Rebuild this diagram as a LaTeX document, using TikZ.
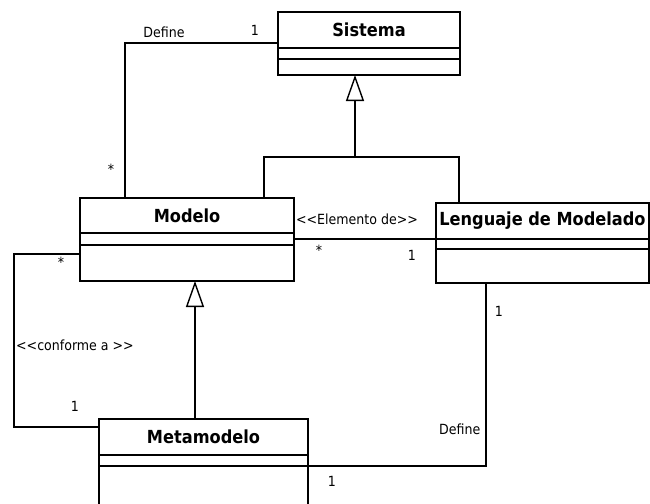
\documentclass[tikz,border=0pt]{standalone}
\usepackage{fontspec}
\setmainfont{DejaVu Sans Condensed}
\usetikzlibrary{positioning,arrows.meta}
\begin{document}
\begin{tikzpicture}[
                x=0.5pt, y=-0.5pt,
                line width=0.7pt,
                title/.style={draw, outer sep=0pt, inner sep=0pt, anchor=north west,
                        minimum height=18pt, font=\fontsize{9}{10}\selectfont\bfseries},
                part/.style={draw, outer sep=0pt, inner sep=0pt},
                lbl/.style={inner sep=0pt, font=\fontsize{7}{8}\selectfont},
                gen/.style={-{Triangle[open, length=13pt, width=9pt]}}
            ]

            \useasboundingbox[fill=white] (0,0) rectangle (650,504);

            % clases
            \node[title, minimum width=91pt] (sisT) at (278,12) {Sistema};
            \node[part, minimum width=91pt, minimum height=5.5pt, below=0pt of sisT] (sisM) {};
            \node[part, minimum width=91pt, minimum height=8pt, below=0pt of sisM] (sisB) {};

            \node[title, minimum width=107pt, minimum height=17.5pt] (modT) at (80,198) {Modelo};
            \node[part, minimum width=107pt, minimum height=6pt, below=0pt of modT] (modM) {};
            \node[part, minimum width=107pt, minimum height=18pt, below=0pt of modM] (modB) {};

            \node[title, minimum width=106.5pt] (lenT) at (436,203) {Lenguaje de Modelado};
            \node[part, minimum width=106.5pt, minimum height=5pt, below=0pt of lenT] (lenM) {};
            \node[part, minimum width=106.5pt, minimum height=17pt, below=0pt of lenM] (lenB) {};

            \node[title, minimum width=104.5pt] (metaT) at (99,419) {Metamodelo};
            \node[part, minimum width=104.5pt, minimum height=5.5pt, below=0pt of metaT] (metaM) {};
            \node[part, minimum width=104.5pt, minimum height=20pt, below=0pt of metaM] (metaB) {};

            % herencia
            \coordinate (j1) at (355,157);
            \draw[gen] (j1) -- (j1 |- sisB.south);
            \draw ([xshift=38.5pt]modT.north) |- (j1) -| ([xshift=-41.75pt]lenT.north);
            \draw[gen] ([xshift=-4.25pt]metaT.north) -- ([xshift=-4.25pt]metaT.north |- modB.south);

            % asociaciones
            \draw ([yshift=-6.5pt]sisT.west) -| ([xshift=22.5pt]modT.north west);
            \draw (modM.east) -- (modM.east -| lenT.west);
            \draw ([yshift=4.5pt]modB.west) -- ++(-33pt,0) |- ([yshift=5pt]metaT.west);
            \draw ([xshift=-28.25pt]lenB.south) |- (metaM.south east);

            % etiquetas
            \node[lbl] (def1) at (164,32) {Define};
            \node[lbl] (m1) at (255,30) {1};
            \node[lbl] (m2) at (111,169) {*};
            \node[lbl] (elem) at (357,219) {<\kern0pt<Elemento de>\kern0pt>};
            \node[lbl] (m3) at (319,250) {*};
            \node[lbl] (m4) at (412,255) {1};
            \node[lbl] (m5) at (61,262) {*};
            \node[lbl] (m6) at (499,311) {1};
            \node[lbl] (conf) at (75,345) {<\kern0pt<conforme a >\kern0pt>};
            \node[lbl] (m7) at (75,406) {1};
            \node[lbl, anchor=east] (def2) at (481,429) {Define};
            \node[lbl] (m8) at (332,481) {1};

        \end{tikzpicture}
\end{document}
